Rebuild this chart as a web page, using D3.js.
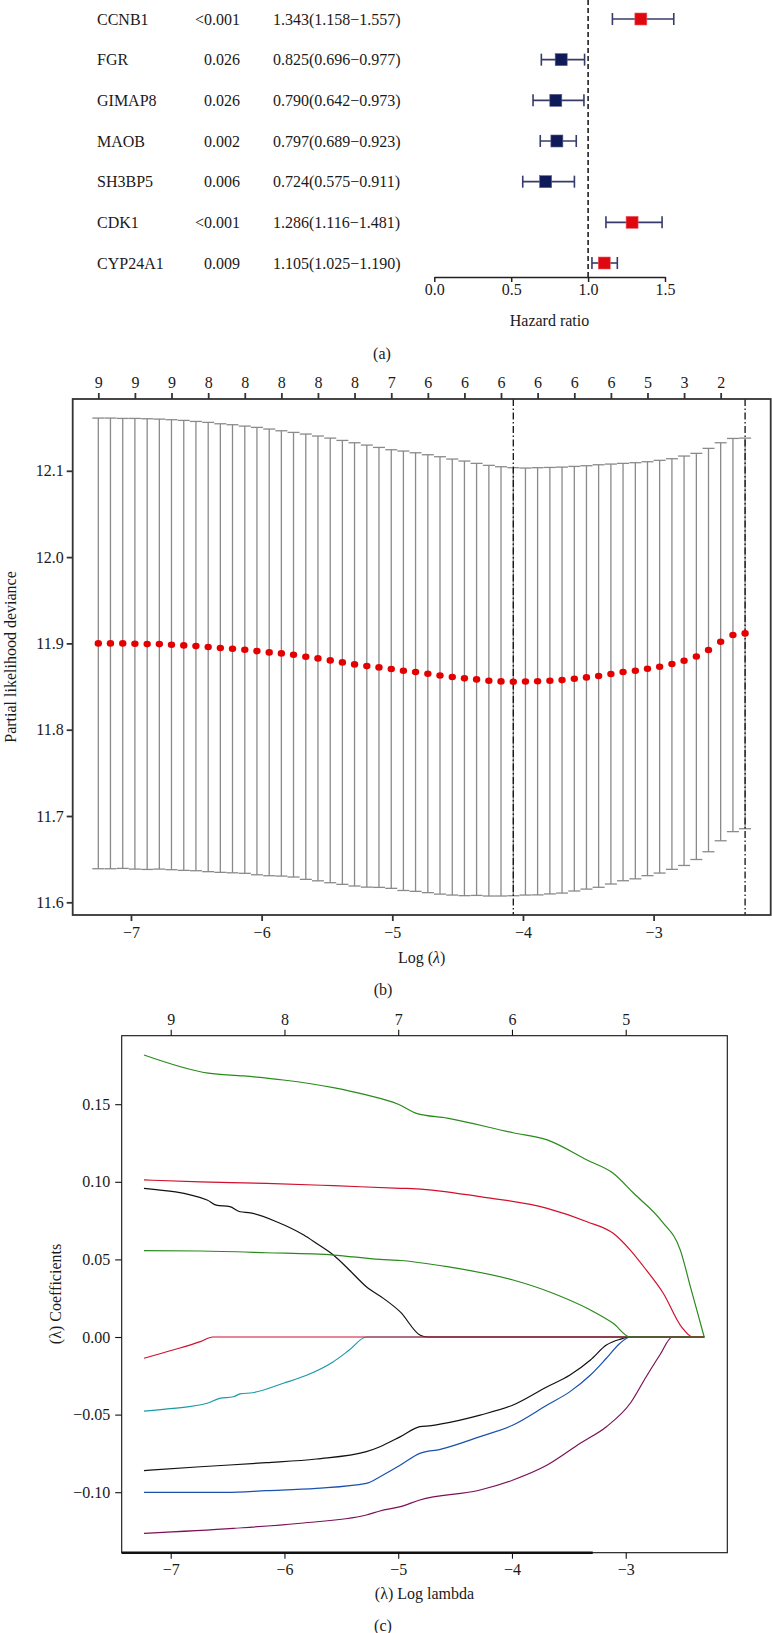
<!DOCTYPE html>
<html>
<head>
<meta charset="utf-8">
<script src="https://cdn.jsdelivr.net/npm/d3@7"></script>
<style>
  body { margin: 0; background: #fff; }
  svg { display: block; }
  svg text { font-family: "Liberation Serif", "DejaVu Serif", serif; }
</style>
</head>
<body>
<svg id="fig" width="772" height="1633"></svg>
<script>
// (a) univariate Cox results
const genes = ['CCNB1', 'FGR', 'GIMAP8', 'MAOB', 'SH3BP5', 'CDK1', 'CYP24A1'];
const pValues = ['<0.001', '0.026', '0.026', '0.002', '0.006', '<0.001', '0.009'];
const hazardRatio = [1.343, 0.825, 0.790, 0.797, 0.724, 1.286, 1.105];
const hrLower = [1.158, 0.696, 0.642, 0.689, 0.575, 1.116, 1.025];
const hrUpper = [1.557, 0.977, 0.973, 0.923, 0.911, 1.481, 1.190];
const hrTicks = [0, 0.5, 1.0, 1.5];

// (b) cross-validation curve
const cvLogLambda = [-7.250, -7.157, -7.063, -6.970, -6.876, -6.783, -6.690, -6.596, -6.503, -6.409,
  -6.316, -6.223, -6.129, -6.036, -5.942, -5.849, -5.756, -5.662, -5.569, -5.475,
  -5.382, -5.289, -5.195, -5.102, -5.008, -4.915, -4.822, -4.728, -4.635, -4.541,
  -4.448, -4.355, -4.261, -4.168, -4.074, -3.981, -3.888, -3.794, -3.701, -3.607,
  -3.514, -3.421, -3.327, -3.234, -3.140, -3.047, -2.954, -2.860, -2.767, -2.673,
  -2.580, -2.487, -2.393, -2.300];
const cvMean = [11.9000, 11.9000, 11.9000, 11.8996, 11.8992, 11.8992, 11.8985, 11.8977, 11.8969, 11.8958,
  11.8946, 11.8938, 11.8927, 11.8911, 11.8896, 11.8884, 11.8869, 11.8846, 11.8826, 11.8803,
  11.8780, 11.8757, 11.8737, 11.8722, 11.8703, 11.8683, 11.8668, 11.8649, 11.8629, 11.8610,
  11.8595, 11.8583, 11.8568, 11.8560, 11.8556, 11.8558, 11.8561, 11.8568, 11.8575, 11.8591,
  11.8606, 11.8622, 11.8645, 11.8668, 11.8683, 11.8707, 11.8730, 11.8761, 11.8799, 11.8849,
  11.8923, 11.9019, 11.9097, 11.9116];
const cvUpper = [12.1611, 12.1611, 12.1607, 12.1607, 12.1603, 12.1599, 12.1592, 12.1584, 12.1572, 12.1561,
  12.1545, 12.1534, 12.1518, 12.1503, 12.1484, 12.1464, 12.1445, 12.1426, 12.1403, 12.1379,
  12.1352, 12.1325, 12.1298, 12.1271, 12.1244, 12.1229, 12.1209, 12.1186, 12.1163, 12.1136,
  12.1113, 12.1086, 12.1063, 12.1047, 12.1036, 12.1032, 12.1036, 12.1039, 12.1043, 12.1051,
  12.1059, 12.1070, 12.1078, 12.1086, 12.1094, 12.1105, 12.1121, 12.1140, 12.1171, 12.1202,
  12.1260, 12.1325, 12.1375, 12.1379];
const cvLower = [11.6389, 11.6389, 11.6393, 11.6385, 11.6381, 11.6385, 11.6378, 11.6370, 11.6366, 11.6355,
  11.6347, 11.6342, 11.6336, 11.6319, 11.6308, 11.6304, 11.6293, 11.6266, 11.6249, 11.6227,
  11.6208, 11.6189, 11.6176, 11.6173, 11.6162, 11.6137, 11.6127, 11.6112, 11.6095, 11.6084,
  11.6077, 11.6080, 11.6073, 11.6073, 11.6076, 11.6084, 11.6086, 11.6097, 11.6107, 11.6131,
  11.6153, 11.6174, 11.6212, 11.6250, 11.6272, 11.6309, 11.6339, 11.6382, 11.6427, 11.6496,
  11.6586, 11.6713, 11.6819, 11.6853];
const cvNzeroLabels = [9, 9, 9, 8, 8, 8, 8, 8, 7, 6, 6, 6, 6, 6, 6, 5, 3, 2]; // every 3rd lambda
const lambdaMin = -4.074;
const lambda1se = -2.300;
const cvXTicks = [-7, -6, -5, -4, -3];
const cvYTicks = [11.6, 11.7, 11.8, 11.9, 12.0, 12.1];

// (c) coefficient paths, [log lambda, coefficient]
const pathGreen1 = [[-7.235, 0.1817], [-6.67, 0.170], [-6.36, 0.1682], [-6.01, 0.1656], [-5.57, 0.1607],
  [-5.28, 0.156], [-5.0, 0.150], [-4.84, 0.1441], [-4.57, 0.141], [-3.99, 0.1316], [-3.69, 0.127],
  [-3.34, 0.114], [-3.11, 0.1055], [-2.93, 0.0926], [-2.68, 0.0743], [-2.52, 0.056], [-2.43, 0.032], [-2.31, 0]];
const pathRed1 = [[-7.235, 0.1012], [-6.74, 0.100], [-6.16, 0.099], [-5.57, 0.0975], [-4.98, 0.0958],
  [-4.84, 0.0955], [-4.28, 0.0904], [-3.69, 0.0829], [-3.34, 0.0743], [-3.11, 0.0668], [-2.96, 0.056],
  [-2.82, 0.0432], [-2.67, 0.0282], [-2.51, 0.0066], [-2.41, 0], [-2.31, 0]];
const pathBlack1 = [[-7.235, 0.0958], [-6.68, 0.0883], [-6.60, 0.085], [-6.48, 0.084], [-6.39, 0.0807],
  [-6.30, 0.080], [-6.07, 0.0743], [-5.83, 0.0657], [-5.72, 0.0604], [-5.57, 0.0528], [-5.43, 0.0432],
  [-5.28, 0.0324], [-5.13, 0.0249], [-4.98, 0.016], [-4.81, 0.0013], [-4.74, 0], [-2.31, 0]];
const pathGreen2 = [[-7.235, 0.0556], [-6.74, 0.0554], [-6.16, 0.0543], [-5.57, 0.0528], [-5.16, 0.0500],
  [-4.98, 0.0493], [-4.57, 0.0453], [-3.99, 0.0367], [-3.64, 0.0282], [-3.31, 0.0174], [-3.11, 0.0088],
  [-2.96, 0], [-2.31, 0]];
const pathRed2 = [[-7.235, -0.0137], [-6.98, -0.0084], [-6.74, -0.003], [-6.63, 0], [-2.31, 0]];
const pathCyan = [[-7.235, -0.0477], [-6.98, -0.046], [-6.68, -0.0427], [-6.57, -0.0395], [-6.45, -0.0385],
  [-6.39, -0.0367], [-6.28, -0.0359], [-6.01, -0.0298], [-5.80, -0.0245], [-5.57, -0.0159],
  [-5.43, -0.0084], [-5.28, 0], [-2.31, 0]];
const pathBlack2 = [[-7.235, -0.0861], [-6.74, -0.0836], [-6.16, -0.081], [-5.72, -0.0786], [-5.28, -0.0739],
  [-5.16, -0.0707], [-4.98, -0.0642], [-4.81, -0.0578], [-4.71, -0.0571], [-4.62, -0.056], [-4.28, -0.0503],
  [-3.99, -0.0438], [-3.69, -0.032], [-3.49, -0.0245], [-3.31, -0.0148], [-3.17, -0.0052], [-3.05, -0.0015],
  [-2.96, 0], [-2.31, 0]];
const pathBlue = [[-7.235, -0.1001], [-6.51, -0.1001], [-6.16, -0.099], [-5.72, -0.0975], [-5.28, -0.0943],
  [-5.16, -0.090], [-4.98, -0.0825], [-4.81, -0.075], [-4.63, -0.0724], [-4.28, -0.0642], [-3.99, -0.0567],
  [-3.69, -0.0438], [-3.49, -0.0352], [-3.31, -0.0245], [-3.17, -0.0137], [-3.05, -0.004], [-2.96, 0], [-2.31, 0]];
const pathPurple = [[-7.235, -0.1265], [-6.45, -0.1233], [-5.86, -0.120], [-5.28, -0.1147], [-5.16, -0.1121],
  [-4.98, -0.1093], [-4.81, -0.105], [-4.28, -0.0986], [-3.99, -0.0921], [-3.69, -0.0825], [-3.40, -0.0685],
  [-3.17, -0.0578], [-2.96, -0.0427], [-2.82, -0.0256], [-2.70, -0.0116], [-2.59, 0], [-2.31, 0]];
const pathDfTicks = [-7, -6, -5, -4, -3];
const pathDfLabels = [9, 8, 7, 6, 5];
const coefYTicks = [-0.10, -0.05, 0.00, 0.05, 0.10, 0.15];

const svg = d3.select('#fig');
const txt = '#1a1a1a';

function styleAxis(g, col, w, keepDomain) {
  g.attr('font-size', 16);
  if (keepDomain) g.select('.domain').attr('stroke', col).attr('stroke-width', w);
  else g.select('.domain').remove();
  g.selectAll('.tick line').attr('stroke', col).attr('stroke-width', w);
  g.selectAll('text').attr('fill', txt);
}

// ---------------- (a) forest plot ----------------
const hx = d3.scaleLinear().domain([0, 1.5]).range([434.3, 665]);
const row = d3.scalePoint().domain(genes).range([19, 263]);
const forest = genes.map((g, i) => ({ g, p: pValues[i], hr: hazardRatio[i], lo: hrLower[i], hi: hrUpper[i] }));

const ga = svg.append('g').attr('font-size', 16).attr('fill', txt);
ga.selectAll('.gene').data(forest).enter().append('text')
  .attr('x', 97).attr('y', d => row(d.g)).attr('dy', '0.35em').text(d => d.g);
ga.selectAll('.pval').data(forest).enter().append('text')
  .attr('x', 240).attr('y', d => row(d.g)).attr('dy', '0.35em').attr('text-anchor', 'end').text(d => d.p);
ga.selectAll('.hrtxt').data(forest).enter().append('text')
  .attr('x', 273).attr('y', d => row(d.g)).attr('dy', '0.35em')
  .text(d => `${d.hr.toFixed(3)}(${d.lo.toFixed(3)}\u2212${d.hi.toFixed(3)})`);

// reference line at HR = 1
svg.append('line')
  .attr('x1', hx(1)).attr('x2', hx(1)).attr('y1', 0).attr('y2', 277)
  .attr('stroke', '#111').attr('stroke-width', 1.5).attr('stroke-dasharray', '5,3');

const bars = svg.append('g').attr('stroke', '#363b6a').attr('stroke-width', 1.6);
forest.forEach(d => {
  const y = row(d.g);
  bars.append('line').attr('x1', hx(d.lo)).attr('x2', hx(d.hi)).attr('y1', y).attr('y2', y);
  bars.append('line').attr('x1', hx(d.lo)).attr('x2', hx(d.lo)).attr('y1', y - 6).attr('y2', y + 6);
  bars.append('line').attr('x1', hx(d.hi)).attr('x2', hx(d.hi)).attr('y1', y - 6).attr('y2', y + 6);
});
svg.selectAll('.box').data(forest).enter().append('rect')
  .attr('x', d => hx(d.hr) - 6).attr('y', d => row(d.g) - 6)
  .attr('width', 12).attr('height', 12)
  .attr('fill', d => d.hr > 1 ? '#e0080f' : '#0f1a58')
  .attr('stroke', d => d.hr > 1 ? '#e8606a' : '#5a6190').attr('stroke-width', 0.6);

styleAxis(svg.append('g').attr('transform', 'translate(0,277)')
  .call(d3.axisBottom(hx).tickValues(hrTicks).tickFormat(d3.format('.1f')).tickSize(5).tickSizeOuter(0).tickPadding(2)),
  '#222', 1.5, true);
svg.append('text').attr('x', 549.5).attr('y', 320).attr('dy', '0.35em')
  .attr('text-anchor', 'middle').attr('font-size', 16).attr('fill', txt).text('Hazard ratio');
svg.append('text').attr('x', 382).attr('y', 353).attr('dy', '0.35em')
  .attr('text-anchor', 'middle').attr('font-size', 16).attr('fill', txt).text('(a)');

// ---------------- (b) cv deviance ----------------
const bx = d3.scaleLinear().domain([-7.446, -2.104]).range([72.7, 770.7]);
const by = d3.scaleLinear().domain([11.5853, 12.1832]).range([915, 399]);
const cv = cvLogLambda.map((l, i) => ({ l, m: cvMean[i], up: cvUpper[i], lo: cvLower[i] }));

const gb = svg.append('g');
const wh = gb.append('g').attr('stroke', '#8a8a8a').attr('stroke-width', 1.3);
cv.forEach(d => {
  wh.append('line').attr('x1', bx(d.l)).attr('x2', bx(d.l)).attr('y1', by(d.lo)).attr('y2', by(d.up));
  wh.append('line').attr('x1', bx(d.l) - 6).attr('x2', bx(d.l) + 6).attr('y1', by(d.up)).attr('y2', by(d.up));
  wh.append('line').attr('x1', bx(d.l) - 6).attr('x2', bx(d.l) + 6).attr('y1', by(d.lo)).attr('y2', by(d.lo));
});
[lambdaMin, lambda1se].forEach(v => {
  gb.append('line').attr('x1', bx(v)).attr('x2', bx(v)).attr('y1', 399).attr('y2', 915)
    .attr('stroke', '#111').attr('stroke-width', 1.3).attr('stroke-dasharray', '7,2.5,1.5,2.5');
});
gb.selectAll('.dot').data(cv).enter().append('ellipse')
  .attr('cx', d => bx(d.l)).attr('cy', d => by(d.m)).attr('rx', 3.7).attr('ry', 3.3)
  .attr('fill', '#e50000');

gb.append('rect').attr('x', 72.7).attr('y', 399).attr('width', 698).attr('height', 516)
  .attr('fill', 'none').attr('stroke', '#333').attr('stroke-width', 1.8);

styleAxis(gb.append('g').attr('transform', 'translate(0,915)')
  .call(d3.axisBottom(bx).tickValues(cvXTicks).tickFormat(d3.format('d')).tickSize(6).tickPadding(6)), '#333', 1.8);
styleAxis(gb.append('g').attr('transform', 'translate(72.7,0)')
  .call(d3.axisLeft(by).tickValues(cvYTicks).tickFormat(d3.format('.1f')).tickSize(6).tickPadding(3)), '#333', 1.8);
const topTicks = cvLogLambda.filter((d, i) => i % 3 === 0);
styleAxis(gb.append('g').attr('transform', 'translate(0,399)')
  .call(d3.axisTop(bx).tickValues(topTicks).tickFormat((d, i) => cvNzeroLabels[i]).tickSize(6).tickPadding(5)), '#333', 1.8);

const xlabB = svg.append('text').attr('x', 421.7).attr('y', 957).attr('dy', '0.35em')
  .attr('text-anchor', 'middle').attr('font-size', 16).attr('fill', txt);
xlabB.append('tspan').text('Log (');
xlabB.append('tspan').attr('font-style', 'italic').text('\u03bb');
xlabB.append('tspan').text(')');
svg.append('text').attr('transform', 'translate(10,657) rotate(-90)').attr('dy', '0.35em')
  .attr('text-anchor', 'middle').attr('font-size', 16).attr('fill', txt).text('Partial likelihood deviance');
svg.append('text').attr('x', 383).attr('y', 989).attr('dy', '0.35em')
  .attr('text-anchor', 'middle').attr('font-size', 16).attr('fill', txt).text('(b)');

// ---------------- (c) coefficient paths ----------------
const cx = d3.scaleLinear().domain([-7.4308, -2.107]).range([121.7, 727.3]);
const cy = d3.scaleLinear().domain([-0.13898, 0.19414]).range([1552.7, 1035.7]);
const line = d3.line().x(d => cx(d[0])).y(d => cy(d[1])).curve(d3.curveMonotoneX);

const paths = [
  { d: pathCyan, c: '#1c9aa6' },
  { d: pathBlack1, c: '#111111' },
  { d: pathBlack2, c: '#111111' },
  { d: pathBlue, c: '#1a50b0' },
  { d: pathPurple, c: '#7a1157' },
  { d: pathRed1, c: '#d0102c' },
  { d: pathRed2, c: '#d0102c' },
  { d: pathGreen2, c: '#2a8a1c' },
  { d: pathGreen1, c: '#2a8a1c' }
];
const gc = svg.append('g');
gc.selectAll('.path').data(paths).enter().append('path')
  .attr('d', p => line(p.d)).attr('fill', 'none')
  .attr('stroke', p => p.c).attr('stroke-width', 1.2);

gc.append('rect').attr('x', 121.7).attr('y', 1035.7).attr('width', 605.6).attr('height', 517)
  .attr('fill', 'none').attr('stroke', '#111').attr('stroke-width', 1.1);
gc.append('line').attr('x1', 121.7).attr('x2', cx(-3.29)).attr('y1', 1552.7).attr('y2', 1552.7)
  .attr('stroke', '#111').attr('stroke-width', 2.6);

styleAxis(gc.append('g').attr('transform', 'translate(0,1552.7)')
  .call(d3.axisBottom(cx).tickValues(cvXTicks).tickFormat(d3.format('d')).tickSize(6).tickPadding(5)), '#111', 1.1);
styleAxis(gc.append('g').attr('transform', 'translate(121.7,0)')
  .call(d3.axisLeft(cy).tickValues(coefYTicks).tickFormat(d3.format('.2f')).tickSize(6.5).tickPadding(5)), '#111', 1.1);
styleAxis(gc.append('g').attr('transform', 'translate(0,1035.7)')
  .call(d3.axisTop(cx).tickValues(pathDfTicks).tickFormat((d, i) => pathDfLabels[i]).tickSize(6).tickPadding(5)), '#111', 1.1);

svg.append('text').attr('x', 424.5).attr('y', 1593).attr('dy', '0.35em')
  .attr('text-anchor', 'middle').attr('font-size', 16).attr('fill', txt).text('(\u03bb) Log lambda');
svg.append('text').attr('transform', 'translate(55,1294) rotate(-90)').attr('dy', '0.35em')
  .attr('text-anchor', 'middle').attr('font-size', 16).attr('fill', txt).text('(\u03bb) Coefficients');
svg.append('text').attr('x', 383).attr('y', 1625).attr('dy', '0.35em')
  .attr('text-anchor', 'middle').attr('font-size', 16).attr('fill', txt).text('(c)');
</script>
</body>
</html>
